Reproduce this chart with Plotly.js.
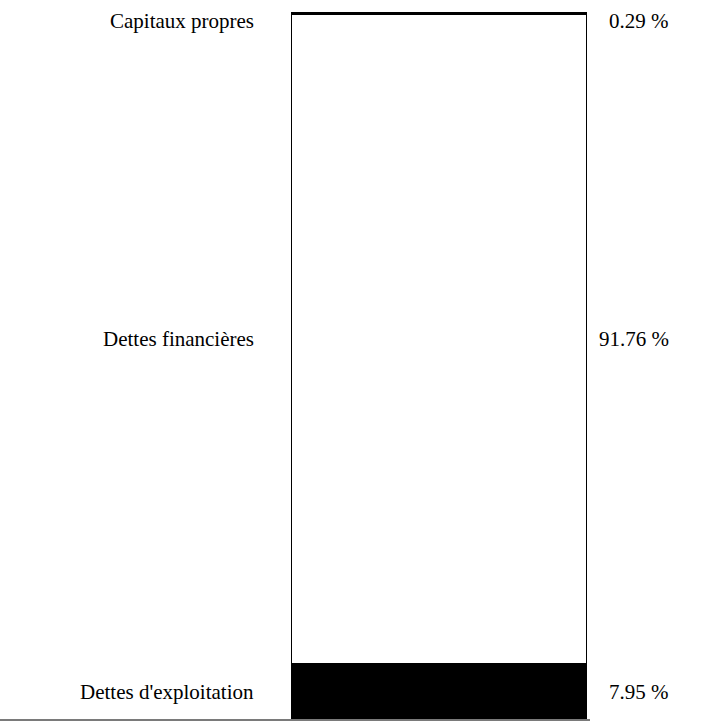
<!DOCTYPE html>
<html>
<head>
<meta charset="utf-8">
<script src="https://cdn.plot.ly/plotly-3.0.1.min.js"></script>
<style>
  html, body { margin: 0; padding: 0; background: #fff; }
  #chart { width: 723px; height: 722px; }
</style>
</head>
<body>
<div id="chart"></div>
<script>
// Structure du passif (en % du total), de bas en haut
const categories = ["Dettes d'exploitation", "Dettes financières", "Capitaux propres"];
const shares = [7.95, 91.76, 0.29];
const fills = ["#000000", "#ffffff", "#000000"];

const FONT = { family: "Liberation Serif, Times New Roman, serif", size: 21, color: "#000" };

// One stacked trace per component, all in the same column
const traces = categories.map((name, i) => ({
  type: "bar",
  x: ["Passif"],
  y: [shares[i]],
  name: name,
  width: 1,
  marker: { color: fills[i], line: { color: "#000", width: 2 } },
  hoverinfo: "skip",
  showlegend: false
}));

// Labels at the middle of each segment: name on the left, share on the right.
// The thin top segment gets its label nudged down so it stays inside the page.
const annotations = [];
let base = 0;
shares.forEach((v, i) => {
  const mid = base + v / 2;
  base += v;
  const shift = i === shares.length - 1 ? -8 : 0;
  annotations.push({
    xref: "paper", yref: "y", x: 256 / 723, y: mid, yshift: shift,
    xanchor: "right", yanchor: "middle",
    text: categories[i], showarrow: false, font: FONT
  });
  annotations.push({
    xref: "paper", yref: "y", x: 671 / 723, y: mid, yshift: shift,
    xanchor: "right", yanchor: "middle",
    text: v.toFixed(2) + " %", showarrow: false, font: FONT
  });
});

const layout = {
  width: 723, height: 722,
  margin: { l: 0, r: 0, t: 12, b: 2 },
  paper_bgcolor: "#fff", plot_bgcolor: "#fff",
  barmode: "stack", bargap: 0,
  xaxis: {
    domain: [291 / 723, 587 / 723],
    type: "category", range: [-0.5, 0.5],
    showgrid: false, zeroline: false, showline: false, showticklabels: false, ticks: ""
  },
  yaxis: {
    range: [0, 100], showgrid: false, zeroline: false,
    showline: false, showticklabels: false, ticks: ""
  },
  annotations: annotations,
  shapes: [{
    type: "line", xref: "paper", yref: "paper",
    x0: 0, x1: 590 / 723, y0: 0, y1: 0,
    line: { color: "#7a7a7a", width: 2 }
  }]
};

Plotly.newPlot("chart", traces, layout, { displayModeBar: false, staticPlot: true });
</script>
</body>
</html>
